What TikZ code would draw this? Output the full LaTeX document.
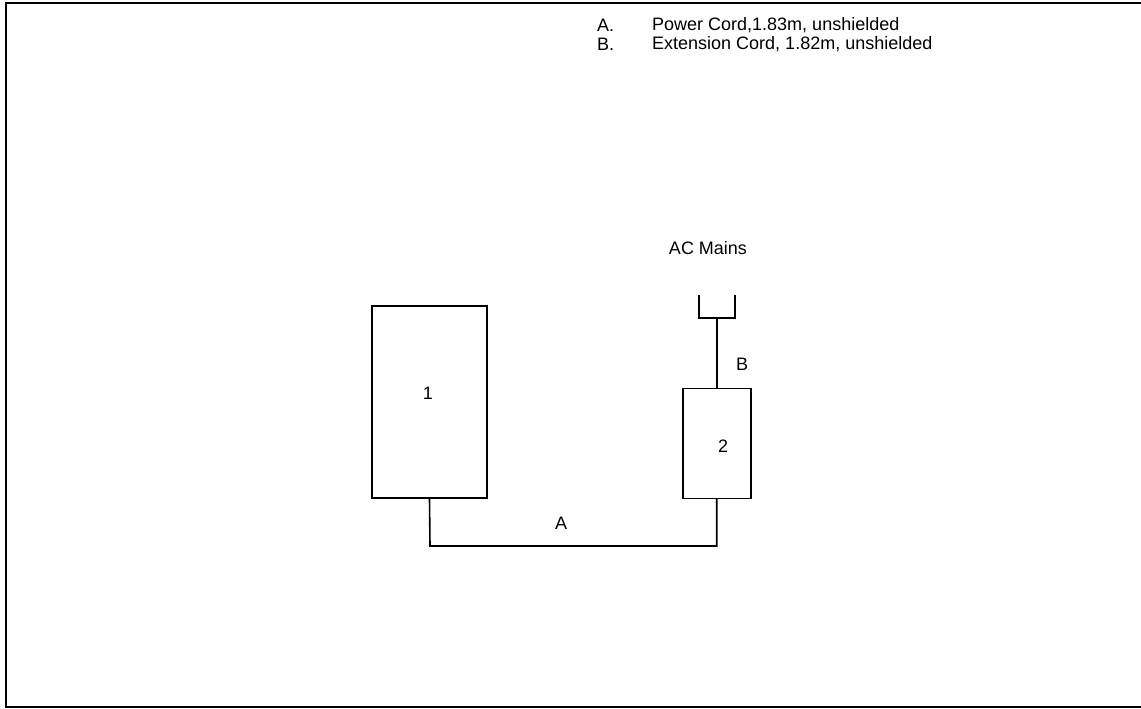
\documentclass[tikz,border=0pt]{standalone}
\usepackage{fontspec}
\setmainfont{Liberation Sans}
\begin{document}
\begin{tikzpicture}[
  x=1pt, y=-1pt,
  every node/.style={font=\fontsize{18}{21}\selectfont, inner sep=0pt},
  unit/.style={rectangle, draw=black, line width=1.6pt},
  cord/.style={draw=black, line width=1.6pt},
  item/.style={anchor=west}
]
\useasboundingbox (0,0) rectangle (1141,709);
% Rahmen
\draw[line width=2pt] (1150,3) -- (6,3) -- (6,707) -- (1150,707);

% Geraete
\node[unit, minimum width=115, minimum height=192] (dev1) at (429.5,402) {};
\node (lab1) at (428,393) {1};
\node[unit, minimum width=68, minimum height=110] (dev2) at (716.7,443.3) {};
\node (lab2) at (723,446.5) {2};

% Stecker
\coordinate (plugL) at (699,295);
\coordinate (plugR) at (735,295);
\coordinate (plug) at (716.7,318);
\draw[cord] (plugL) |- (plug) -| (plugR);
\draw[cord] (plug) -- (dev2.north);
\node (mains) at (708,248) {AC Mains};
\node (labB) at (742,364) {B};

% Kabel A
\coordinate (bend) at (430,546);
\draw[cord] (dev1.south) -- (bend) -| (dev2.south);
\node (labA) at (561,523) {A};

% Legende
\node[item] (keyA) at (597,25) {A.};
\node[item] (txtA) at (652,25) {Power Cord,1.83m, unshielded};
\node[item] (keyB) at (597,44) {B.};
\node[item] (txtB) at (652,44) {Extension Cord, 1.82m, unshielded};
\end{tikzpicture}
\end{document}
